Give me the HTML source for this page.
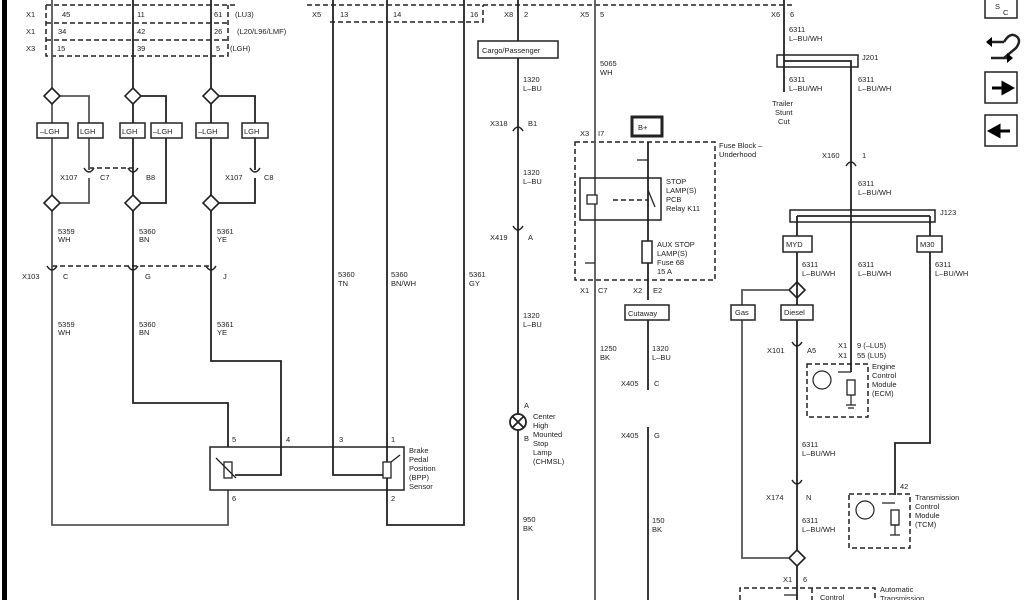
<!DOCTYPE html>
<html><head><meta charset="utf-8"><style>
html,body{margin:0;padding:0;background:#fff;width:1024px;height:600px;overflow:hidden}
svg text{font-family:"Liberation Sans",sans-serif;font-size:7.5px;fill:#222}
</style></head><body>
<svg width="1024" height="600" viewBox="0 0 1024 600" xmlns="http://www.w3.org/2000/svg">
<g fill="none" stroke="#222" stroke-width="1.8">
<line x1="4.5" y1="0" x2="4.5" y2="600" stroke="#000" stroke-width="5"/>
<g stroke-dasharray="5,3" stroke-width="1.5">
<path d="M46 5 H236 M46 5 V56 H228 V5"/>
<line x1="46" y1="23" x2="228" y2="23"/><line x1="46" y1="40" x2="228" y2="40"/>
<path d="M307 5 H795 M330 22 H483 V5"/>
<path d="M52 266 H211 M89 168 H133"/>
<rect x="575" y="142" width="140" height="138"/>
<rect x="807" y="364" width="61" height="53"/>
<rect x="849" y="494" width="61" height="54"/>
<path d="M740 600 V588 H875 V600 M812 588 V600"/>
<line x1="613" y1="200" x2="648" y2="200"/>
</g>
<path d="M52 0 V525 H228 V490" stroke="#555"/>
<path d="M133 0 V403 H228 V447"/>
<path d="M211 0 V361 H281 V475 H235"/>
<path d="M333 0 V475 H383"/>
<path d="M387 0 V525 H464 V0"/>
<path d="M52 96 H89 V170 M52 203 H89 V178" stroke="#555"/>
<path d="M133 96 H166 V203 H133"/>
<path d="M211 96 H255 V170 M211 203 H255 V178"/>
<rect x="210" y="447" width="194" height="43" stroke-width="1.5"/>
<rect x="224" y="462" width="8" height="16" stroke-width="1.3" fill="#fff"/>
<rect x="383" y="462" width="8" height="16" stroke-width="1.3" fill="#fff"/>
<path d="M236 478 L216 458 M391 462 L400 455" stroke-width="1.3"/>
<g stroke-width="1.5" fill="#fff">
<rect x="37" y="123" width="31" height="15"/><rect x="78" y="123" width="25" height="15"/>
<rect x="120" y="123" width="25" height="15"/><rect x="151" y="123" width="31" height="15"/>
<rect x="196" y="123" width="32" height="15"/><rect x="242" y="123" width="26" height="15"/>
</g>
<g fill="#fff" stroke-width="1.6">
<path d="M52 88 L60 96 L52 104 L44 96Z"/><path d="M133 88 L141 96 L133 104 L125 96Z"/><path d="M211 88 L219 96 L211 104 L203 96Z"/>
<path d="M52 195 L60 203 L52 211 L44 203Z"/><path d="M133 195 L141 203 L133 211 L125 203Z"/><path d="M211 195 L219 203 L211 211 L203 203Z"/>
<path d="M797 282 L805 290 L797 298 L789 290Z"/><path d="M797 550 L805 558 L797 566 L789 558Z"/>
</g>
<g stroke-width="1.5">
<path d="M84 168 Q89 176 94 168 M128 168 Q133 176 138 168 M250 168 Q255 176 260 168"/>
<path d="M47 266 Q52 274 57 266 M128 266 Q133 274 138 266 M206 266 Q211 274 216 266"/>
<path d="M513 131 Q518 123 523 131 M513 226 Q518 234 523 226"/>
<path d="M846 166 Q851 158 856 166 M792 342 Q797 350 802 342 M792 480 Q797 488 802 480"/>
</g>
<line x1="518" y1="0" x2="518" y2="600"/>
<line x1="595" y1="0" x2="595" y2="600" stroke="#555"/>
<path d="M648 142 V300"/>
<path d="M648 320 V390 M648 427 V600"/>
<circle cx="518" cy="422" r="8" fill="#fff"/>
<path d="M512 416 L524 428 M524 416 L512 428"/>
<rect x="478" y="41" width="80" height="17" stroke-width="1.5" fill="#fff"/>
<rect x="632" y="117" width="30" height="19" stroke-width="3" fill="#fff"/>
<rect x="580" y="178" width="81" height="42" stroke-width="1.5"/>
<rect x="587" y="195" width="10" height="9" stroke-width="1.3" fill="#fff"/>
<path d="M648 190 L655 207" stroke-width="1.3"/>
<rect x="642" y="241" width="10" height="22" stroke-width="1.5" fill="#fff"/>
<path d="M637 160 H648 M585 263 H595" stroke-width="1.3"/>
<rect x="625" y="305" width="44" height="15" stroke-width="1.5" fill="#fff"/>
<path d="M784 0 V92"/>
<rect x="777" y="55" width="81" height="12" stroke-width="1.5"/>
<path d="M784 61 H851 V372" />
<rect x="790" y="210" width="145" height="12" stroke-width="1.5"/>
<path d="M797 216 H930 M797 216 V550 M930 216 V443 H895 V495"/>
<rect x="783" y="236" width="29" height="16" stroke-width="1.5" fill="#fff"/>
<rect x="917" y="236" width="25" height="16" stroke-width="1.5" fill="#fff"/>
<path d="M789 290 H742 V558 H789" stroke="#555"/>
<rect x="731" y="305" width="24" height="15" stroke-width="1.5" fill="#fff"/>
<rect x="781" y="305" width="32" height="15" stroke-width="1.5" fill="#fff"/>
<path d="M797 566 V600"/>
<path d="M851 372 H838 M895 503 H882 M797 595 H784" stroke-width="1.3"/>
<rect x="847" y="380" width="8" height="15" stroke-width="1.3" fill="#fff"/>
<rect x="891" y="510" width="8" height="15" stroke-width="1.3" fill="#fff"/>
<path d="M851 395 V405 M846 405 H856 M848 408 H854 M891 525 H899 M895 525 V535 M890 535 H900" stroke-width="1.2"/>
<circle cx="822" cy="380" r="9" stroke-width="1.2"/>
<circle cx="865" cy="510" r="9" stroke-width="1.2"/>
<rect x="985" y="-2" width="32" height="20" stroke-width="1.5"/>
<rect x="985" y="72" width="32" height="31" stroke-width="1.5"/>
<rect x="985" y="115" width="32" height="31" stroke-width="1.5"/>
<path d="M987 42 H1004 M991 58 H1008 M1004 42 Q1010 32 1016 36 Q1022 40 1016 48 L1004 58" stroke-width="2.5"/>
</g>
<path d="M986 42 L992 37 V47Z M1013 58 L1007 53 V63Z" fill="#000"/>
<path d="M992 88 H1003 V83 L1012 88 L1003 93 V88Z" fill="#000" stroke="#000" stroke-width="3"/>
<path d="M1010 131 H999 V126 L990 131 L999 136 V131Z" fill="#000" stroke="#000" stroke-width="3"/>
<g>
<text x="26" y="17">X1</text><text x="62" y="17">45</text><text x="137" y="17">11</text><text x="214" y="17">61</text><text x="235" y="17">(LU3)</text>
<text x="26" y="34">X1</text><text x="58" y="34">34</text><text x="137" y="34">42</text><text x="214" y="34">26</text><text x="237" y="34">(L20/L96/LMF)</text>
<text x="26" y="51">X3</text><text x="57" y="51">15</text><text x="137" y="51">39</text><text x="216" y="51">5</text><text x="230" y="51">(LGH)</text>
<text x="312" y="17">X5</text><text x="340" y="17">13</text><text x="393" y="17">14</text><text x="470" y="17">16</text>
<text x="40" y="134">–LGH</text><text x="80" y="134">LGH</text><text x="122" y="134">LGH</text><text x="153" y="134">–LGH</text><text x="198" y="134">–LGH</text><text x="244" y="134">LGH</text>
<text x="60" y="180">X107</text><text x="100" y="180">C7</text><text x="146" y="180">B8</text><text x="225" y="180">X107</text><text x="264" y="180">C8</text>
<text x="58" y="234">5359</text><text x="58" y="242">WH</text><text x="139" y="234">5360</text><text x="139" y="242">BN</text><text x="217" y="234">5361</text><text x="217" y="242">YE</text>
<text x="22" y="279">X103</text><text x="63" y="279">C</text><text x="145" y="279">G</text><text x="223" y="279">J</text>
<text x="58" y="327">5359</text><text x="58" y="335">WH</text><text x="139" y="327">5360</text><text x="139" y="335">BN</text><text x="217" y="327">5361</text><text x="217" y="335">YE</text>
<text x="338" y="277">5360</text><text x="338" y="286">TN</text><text x="391" y="277">5360</text><text x="391" y="286">BN/WH</text><text x="469" y="277">5361</text><text x="469" y="286">GY</text>
<text x="232" y="442">5</text><text x="286" y="442">4</text><text x="339" y="442">3</text><text x="391" y="442">1</text><text x="232" y="501">6</text><text x="391" y="501">2</text>
<text x="409" y="453">Brake</text><text x="409" y="462">Pedal</text><text x="409" y="471">Position</text><text x="409" y="480">(BPP)</text><text x="409" y="489">Sensor</text>
<text x="504" y="17">X8</text><text x="524" y="17">2</text><text x="580" y="17">X5</text><text x="600" y="17">5</text><text x="771" y="17">X6</text><text x="790" y="17">6</text>
<text x="482" y="53">Cargo/Passenger</text>
<text x="523" y="82">1320</text><text x="523" y="91">L–BU</text>
<text x="490" y="126">X318</text><text x="528" y="126">B1</text>
<text x="523" y="175">1320</text><text x="523" y="184">L–BU</text>
<text x="490" y="240">X419</text><text x="528" y="240">A</text>
<text x="523" y="318">1320</text><text x="523" y="327">L–BU</text>
<text x="524" y="408">A</text><text x="524" y="441">B</text>
<text x="533" y="419">Center</text><text x="533" y="428">High</text><text x="533" y="437">Mounted</text><text x="533" y="446">Stop</text><text x="533" y="455">Lamp</text><text x="533" y="464">(CHMSL)</text>
<text x="523" y="522">950</text><text x="523" y="531">BK</text>
<text x="600" y="66">5065</text><text x="600" y="75">WH</text>
<text x="580" y="136">X3</text><text x="598" y="136">I7</text>
<text x="638" y="130">B+</text>
<text x="719" y="148">Fuse Block –</text><text x="719" y="157">Underhood</text>
<text x="666" y="184">STOP</text><text x="666" y="193">LAMP(S)</text><text x="666" y="202">PCB</text><text x="666" y="211">Relay K11</text>
<text x="657" y="247">AUX STOP</text><text x="657" y="256">LAMP(S)</text><text x="657" y="265">Fuse 68</text><text x="657" y="274">15 A</text>
<text x="580" y="293">X1</text><text x="598" y="293">C7</text><text x="633" y="293">X2</text><text x="653" y="293">E2</text>
<text x="628" y="316">Cutaway</text>
<text x="600" y="351">1250</text><text x="600" y="360">BK</text><text x="652" y="351">1320</text><text x="652" y="360">L–BU</text>
<text x="621" y="386">X405</text><text x="654" y="386">C</text><text x="621" y="438">X405</text><text x="654" y="438">G</text>
<text x="652" y="523">150</text><text x="652" y="532">BK</text>
<text x="789" y="32">6311</text><text x="789" y="41">L–BU/WH</text>
<text x="862" y="60">J201</text>
<text x="789" y="82">6311</text><text x="789" y="91">L–BU/WH</text><text x="858" y="82">6311</text><text x="858" y="91">L–BU/WH</text>
<text x="772" y="106">Trailer</text><text x="775" y="115">Stunt</text><text x="778" y="124">Cut</text>
<text x="822" y="158">X160</text><text x="862" y="158">1</text>
<text x="858" y="186">6311</text><text x="858" y="195">L–BU/WH</text>
<text x="940" y="215">J123</text>
<text x="786" y="247">MYD</text><text x="920" y="247">M30</text>
<text x="802" y="267">6311</text><text x="802" y="276">L–BU/WH</text><text x="858" y="267">6311</text><text x="858" y="276">L–BU/WH</text><text x="935" y="267">6311</text><text x="935" y="276">L–BU/WH</text>
<text x="735" y="315">Gas</text><text x="784" y="315">Diesel</text>
<text x="767" y="353">X101</text><text x="807" y="353">A5</text>
<text x="838" y="348">X1</text><text x="857" y="348">9 (–LU5)</text><text x="838" y="358">X1</text><text x="857" y="358">55 (LU5)</text>
<text x="872" y="369">Engine</text><text x="872" y="378">Control</text><text x="872" y="387">Module</text><text x="872" y="396">(ECM)</text>
<text x="802" y="447">6311</text><text x="802" y="456">L–BU/WH</text>
<text x="766" y="500">X174</text><text x="806" y="500">N</text>
<text x="900" y="489">42</text>
<text x="915" y="500">Transmission</text><text x="915" y="509">Control</text><text x="915" y="518">Module</text><text x="915" y="527">(TCM)</text>
<text x="802" y="523">6311</text><text x="802" y="532">L–BU/WH</text>
<text x="783" y="582">X1</text><text x="803" y="582">6</text>
<text x="820" y="600">Control</text><text x="880" y="592">Automatic</text><text x="880" y="601">Transmission</text>
<text x="995" y="9" font-size="6">S</text><text x="1003" y="15" font-size="6">C</text>
</g>
</svg>
</body></html>
